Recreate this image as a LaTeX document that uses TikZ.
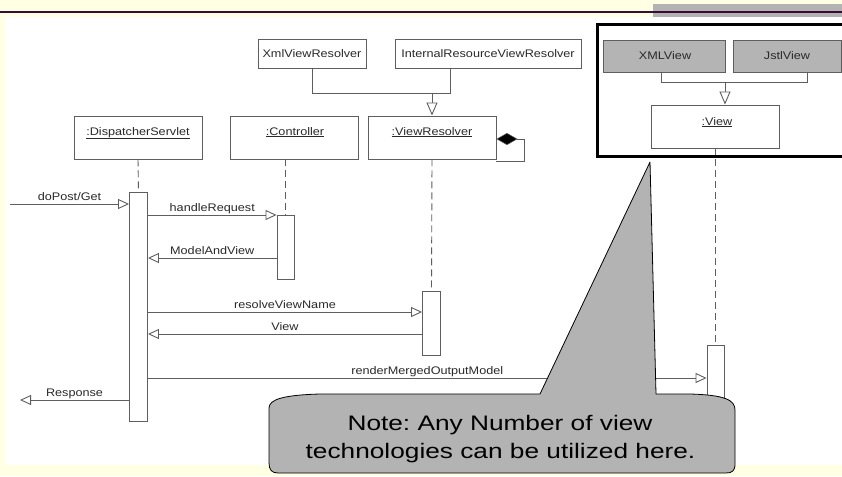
\documentclass[tikz,border=0pt]{standalone}
\usepackage{fontspec}
\setmainfont{Liberation Sans}
\usetikzlibrary{arrows.meta,calc}
\definecolor{bgyellow}{HTML}{FFFFE3}
\definecolor{barpurple}{HTML}{3C0B35}
\definecolor{bargray}{HTML}{B3B3B3}
\definecolor{linegray}{HTML}{5E5E5E}
\definecolor{txtgray}{HTML}{2A2A2A}
\definecolor{boxgray}{HTML}{B4B4B4}
\definecolor{notegray}{HTML}{B3B3B3}
\newcommand\sx[1]{\scalebox{1.15}[1]{#1}}
\newcommand\nx[1]{\scalebox{1.25}[1]{#1}}
\frenchspacing
\begin{document}
\begin{tikzpicture}[x=1pt,y=-1pt,
  umlbox/.style={draw=linegray, line width=0.9pt, fill=white, inner sep=0pt},
  graybox/.style={umlbox, fill=boxgray},
  actbox/.style={draw=linegray, line width=0.9pt, fill=white, inner sep=0pt, minimum width=18pt},
  lbl/.style={text=txtgray, font=\fontsize{11}{13}\selectfont, inner sep=0pt, anchor=base},
  msglbl/.style={text=txtgray, font=\fontsize{11}{13}\selectfont, inner sep=0pt, anchor=base},
  msg/.style={draw=linegray, line width=0.9pt, -{Triangle[length=11pt,width=10pt,fill=white,line width=0.9pt]}},
  gen/.style={draw=linegray, line width=0.9pt, -{Triangle[length=13pt,width=11pt,fill=white,line width=0.9pt]}},
  plainline/.style={draw=linegray, line width=0.9pt},
  life/.style={draw=linegray, line width=0.9pt, dash pattern=on 7pt off 4pt},
  notetxt/.style={text=black, font=\fontsize{21}{28}\selectfont, inner sep=0pt, anchor=base}]
\useasboundingbox (0,0) rectangle (842,476);
\clip (0,0) rectangle (842,476);
% background
\fill[bgyellow] (0,0) rectangle (842,476);
\fill[bargray] (653,4) rectangle (842,17);
\fill[barpurple] (0,11) rectangle (842,13.5);
\fill[white] (5,17) rectangle (842,465);

% resolver hierarchy
\node[umlbox, minimum width=108pt, minimum height=29pt] (xmlvr) at (312,53.5) {};
\node[lbl] (xmlvrl) at (312,57.5) {\sx{XmlViewResolver}};
\node[umlbox, minimum width=186pt, minimum height=29pt] (irvr) at (488,53.5) {};
\node[lbl] (irvrl) at (488,57.5) {\sx{InternalResourceViewResolver}};
\coordinate (genj) at (432,93);
\draw[plainline] (xmlvr.south) -- (312,93) -- (450,93) -- (irvr.south -| 450,0);

% lifeline heads
\node[umlbox, minimum width=128pt, minimum height=43pt] (ds) at (138,137.5) {};
\node[lbl] (dsl) at (138,135) {\sx{\underline{:DispatcherServlet}}};
\node[umlbox, minimum width=128pt, minimum height=43pt] (ctrl) at (294,137.5) {};
\node[lbl] (ctrll) at (295,135) {\sx{\underline{:Controller}}};
\node[umlbox, minimum width=128pt, minimum height=43pt] (vr) at (432,137.5) {};
\node[lbl] (vrl) at (432,135) {\sx{\underline{:ViewResolver}}};
\draw[gen] (genj) -- (vr.north);
\draw[plainline, {Diamond[length=21pt,width=12pt,fill=black,line width=0.5pt]}-] (vr.north east |- 0,139) -- ++(28,0) -- ++(0,22) -- ++(-28,0);

% view hierarchy (framed)
\node[graybox, minimum width=122pt, minimum height=32pt] (xmlv) at (664,56) {};
\node[lbl] (xmlvl) at (665,60) {\sx{XMLView}};
\node[graybox, minimum width=108pt, minimum height=32pt] (jstlv) at (787,56) {};
\node[lbl] (jstlvl) at (787,60) {\sx{JstlView}};
\node[umlbox, minimum width=128pt, minimum height=43pt] (view) at (715,126.5) {};
\node[lbl] (viewl) at (717,125) {\sx{\underline{:View}}};
\coordinate (genv) at (725,82);
\draw[plainline] (xmlv.south -| 661,0) -- (661,82) -- (807,82) -- (jstlv.south -| 807,0);
\draw[gen] (genv) -- (view.north -| genv);
\draw[black, line width=3pt] (597,25) rectangle (850,156);

% activations
\node[actbox, minimum height=229pt] (dsact) at (138.5,306.5) {};
\node[actbox, minimum width=17pt, minimum height=64pt] (ctrlact) at (285.5,247) {};
\node[actbox, minimum height=64pt] (vract) at (431.5,323) {};
\node[actbox, minimum width=17pt, minimum height=100pt] (viewact) at (715.5,395) {};

% lifelines
\draw[life] (ds.south) -- (dsact.north);
\draw[life] (ctrlact.north |- ctrl.south) -- (ctrlact.north);
\draw[life] (vr.south) -- (vract.north);
\draw[life] (view.south -| viewact.north) -- (viewact.north);

% messages
\coordinate (inbound) at (10,204);
\coordinate (outbound) at (20,400);
\draw[msg] (inbound) -- (dsact.west |- 0,204) node[msglbl, pos=0.5, yshift=4pt] (m1) {\sx{doPost/Get}};
\draw[msg] (dsact.east |- 0,215) -- (ctrlact.west |- 0,215) node[msglbl, pos=0.5, yshift=4pt] (m2) {\sx{handleRequest}};
\draw[msg] (ctrlact.west |- 0,258) -- (dsact.east |- 0,258) node[msglbl, pos=0.5, yshift=4pt] (m3) {\sx{ModelAndView}};
\draw[msg] (dsact.east |- 0,312) -- (vract.west |- 0,312) node[msglbl, pos=0.5, yshift=4pt] (m4) {\sx{resolveViewName}};
\draw[msg] (vract.west |- 0,334) -- (dsact.east |- 0,334) node[msglbl, pos=0.5, yshift=4pt] (m5) {\sx{View}};
\draw[msg] (dsact.east |- 0,378) -- (viewact.west |- 0,378) node[msglbl, pos=0.5, yshift=4pt] (m6) {\sx{renderMergedOutputModel}};
\draw[msg] (dsact.west |- 0,400) -- (outbound) node[msglbl, pos=0.5, yshift=4pt] (m7) {\sx{Response}};

% callout
\draw[black, line width=0.8pt, fill=notegray, line join=round]
  (269,463) -- (269,408) .. controls (269,399) and (285,395) .. (320,394)
  -- (540,394) -- (650,162) -- (656,394) -- (690,394)
  .. controls (725,395) and (735,400) .. (735,410)
  -- (735,464) .. controls (735,471) and (732,473) .. (726,473)
  -- (278,473) .. controls (272,473) and (269,470) .. (269,463) -- cycle;
\node[notetxt] (note1) at (500,430) {\nx{Note: Any Number of view}};
\node[notetxt] (note2) at (500.5,458) {\nx{technologies can be utilized here.}};
\end{tikzpicture}
\end{document}
